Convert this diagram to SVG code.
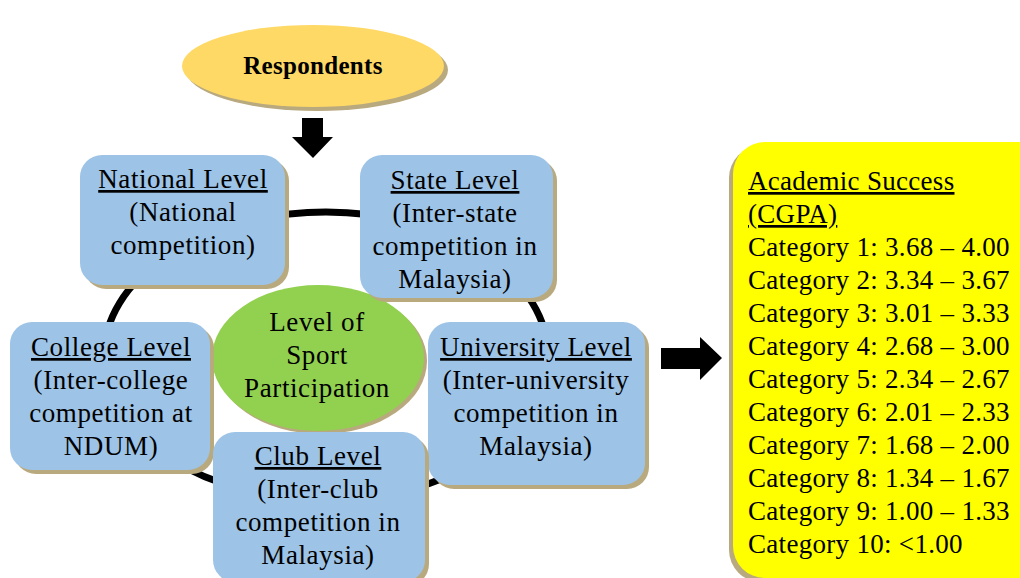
<svg xmlns="http://www.w3.org/2000/svg" width="1020" height="578" viewBox="0 0 1020 578">
<style>
.t{font-family:"Liberation Serif","Times New Roman",serif;font-size:27px;fill:#000;letter-spacing:0.6px}
.c{text-anchor:middle}
.u{text-decoration:underline}
.box{fill:#9DC3E6}
.sh{fill:#B9A97E}
.cat{letter-spacing:0.3px}
</style>
<rect width="1020" height="578" fill="#fff"/>
<g id="connectors">
<ellipse cx="326" cy="356" rx="222" ry="144" fill="none" stroke="#000" stroke-width="7"/>
<polygon points="302,118 323,118 323,137 333,137 313,158 292,137 302,137" fill="#000"/>
<polygon points="661,348 700,348 700,337 722,358 700,380 700,369 661,369" fill="#000"/>
</g>
<g id="respondents">
<ellipse cx="317" cy="70" rx="131" ry="41" class="sh"/>
<ellipse cx="313" cy="66" rx="131" ry="41" fill="#FED966"/>
<text x="313" y="74" class="t c" style="font-weight:bold;font-size:25px;letter-spacing:0.3px">Respondents</text>
</g>
<g id="sport">
<ellipse cx="321" cy="361" rx="106" ry="73" class="sh"/>
<ellipse cx="318" cy="358" rx="106" ry="73" fill="#92D050"/>
<text class="t c"><tspan x="317" y="331">Level of</tspan><tspan x="317" y="364">Sport</tspan><tspan x="317" y="397">Participation</tspan></text>
</g>
<g id="national">
<rect x="84" y="159" width="205" height="130" rx="22" class="sh"/>
<rect x="80" y="155" width="205" height="130" rx="22" class="box"/>
<text class="t c"><tspan x="183" y="188" class="u">National Level</tspan><tspan x="183" y="221">(National</tspan><tspan x="183" y="254">competition)</tspan></text>
</g>
<g id="state">
<rect x="364" y="159" width="193" height="143" rx="22" class="sh"/>
<rect x="360" y="155" width="193" height="143" rx="22" class="box"/>
<text class="t c"><tspan x="455" y="189" class="u">State Level</tspan><tspan x="455" y="222">(Inter-state</tspan><tspan x="455" y="255">competition in</tspan><tspan x="455" y="288">Malaysia)</tspan></text>
</g>
<g id="college">
<rect x="14" y="326" width="200" height="148" rx="22" class="sh"/>
<rect x="10" y="322" width="200" height="148" rx="22" class="box"/>
<text class="t c"><tspan x="111" y="356" class="u">College Level</tspan><tspan x="111" y="389">(Inter-college</tspan><tspan x="111" y="422">competition at</tspan><tspan x="111" y="455">NDUM)</tspan></text>
</g>
<g id="university">
<rect x="432" y="326" width="217" height="163" rx="22" class="sh"/>
<rect x="428" y="322" width="217" height="163" rx="22" class="box"/>
<text class="t c"><tspan x="536" y="356" class="u">University Level</tspan><tspan x="536" y="389">(Inter-university</tspan><tspan x="536" y="422">competition in</tspan><tspan x="536" y="455">Malaysia)</tspan></text>
</g>
<g id="club">
<rect x="217" y="436" width="212" height="150" rx="22" class="sh"/>
<rect x="213" y="432" width="212" height="150" rx="22" class="box"/>
<text class="t c"><tspan x="318" y="465" class="u">Club Level</tspan><tspan x="318" y="498">(Inter-club</tspan><tspan x="318" y="531">competition in</tspan><tspan x="318" y="564">Malaysia)</tspan></text>
</g>
<g id="academic">
<rect x="729" y="146" width="320" height="436" rx="32" class="sh"/>
<rect x="733" y="142" width="320" height="436" rx="32" fill="#FFFF00"/>
<text class="t cat"><tspan x="748" y="190" class="u">Academic Success</tspan><tspan x="748" y="223" class="u">(CGPA)</tspan><tspan x="748" y="256">Category 1: 3.68 – 4.00</tspan><tspan x="748" y="289">Category 2: 3.34 – 3.67</tspan><tspan x="748" y="322">Category 3: 3.01 – 3.33</tspan><tspan x="748" y="355">Category 4: 2.68 – 3.00</tspan><tspan x="748" y="388">Category 5: 2.34 – 2.67</tspan><tspan x="748" y="421">Category 6: 2.01 – 2.33</tspan><tspan x="748" y="454">Category 7: 1.68 – 2.00</tspan><tspan x="748" y="487">Category 8: 1.34 – 1.67</tspan><tspan x="748" y="520">Category 9: 1.00 – 1.33</tspan><tspan x="748" y="553">Category 10: &lt;1.00</tspan></text>
</g>
</svg>
